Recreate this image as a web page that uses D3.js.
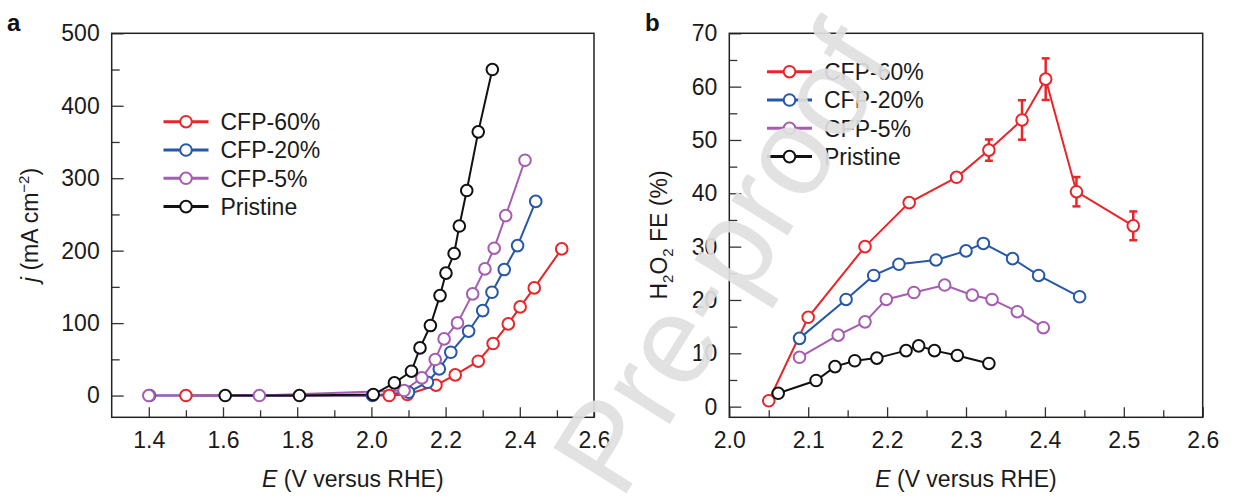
<!DOCTYPE html>
<html>
<head>
<meta charset="utf-8">
<script src="https://cdn.jsdelivr.net/npm/d3@7"></script>
<style>
    body { margin: 0; background: #fff; }
    svg { display: block; font-family: "Liberation Sans", Arial, Helvetica, sans-serif; }
</style>
</head>
<body>
<svg id="fig" width="1233" height="497"></svg>
<script>
'use strict';

/* ---- series names & colours ---- */
const SERIES_NAMES = ['CFP-60%', 'CFP-20%', 'CFP-5%', 'Pristine'];
const SERIES_COLORS = ['#e8262a', '#2757a7', '#a65cb2', '#111111'];

/* ---- panel a: j (mA cm-2) vs E ---- */
const A_E_CFP60 = [1.5, 2.048, 2.097, 2.174, 2.226, 2.288, 2.328, 2.369, 2.401, 2.439, 2.513];
const A_J_CFP60 = [0, 0, 1.4, 14.3, 28.5, 47.4, 71.8, 98.9, 122.4, 148.6, 202.4];
const A_E_CFP20 = [1.402, 2.003, 2.1, 2.151, 2.183, 2.214, 2.262, 2.3, 2.325, 2.358, 2.394, 2.443];
const A_J_CFP20 = [0, 0, 4.6, 18.4, 36.8, 59.8, 88.8, 117.3, 142.6, 173.9, 207, 268];
const A_E_CFP5 = [1.4, 1.698, 2.088, 2.136, 2.172, 2.196, 2.232, 2.273, 2.306, 2.331, 2.362, 2.414];
const A_J_CFP5 = [0, 0, 6.9, 24.4, 49.7, 78.2, 100.3, 140.3, 174.8, 203.4, 248.4, 324.8];
const A_E_PRIS = [1.606, 1.806, 2.005, 2.062, 2.108, 2.131, 2.159, 2.185, 2.201, 2.223, 2.237, 2.257, 2.288, 2.326];
const A_J_PRIS = [0, 0, 1.4, 17.5, 33.6, 65.8, 96.6, 138, 169, 196, 234, 283, 364, 450];

/* ---- panel b: H2O2 FE (%) vs E ---- */
const B_E_CFP60 = [2.05, 2.10, 2.172, 2.228, 2.288, 2.329, 2.371, 2.401, 2.44, 2.512];
const B_FE_CFP60 = [1.1, 16.75, 30, 38.25, 43, 48.1, 53.75, 61.4, 40.3, 33.9];
const B_ERR_CFP60 = [0, 0, 0, 0, 0, 2.0, 3.7, 3.9, 2.75, 2.7];
const B_E_CFP20 = [2.089, 2.148, 2.183, 2.215, 2.262, 2.3, 2.322, 2.359, 2.392, 2.444];
const B_FE_CFP20 = [12.8, 20.1, 24.6, 26.7, 27.5, 29.2, 30.6, 27.75, 24.6, 20.6];
const B_E_CFP5 = [2.089, 2.138, 2.172, 2.199, 2.234, 2.273, 2.308, 2.333, 2.365, 2.398];
const B_FE_CFP5 = [9.25, 13.4, 15.9, 20.1, 21.4, 22.8, 20.9, 20.1, 17.8, 14.8];
const B_E_PRIS = [2.062, 2.11, 2.134, 2.159, 2.187, 2.224, 2.24, 2.26, 2.289, 2.329];
const B_FE_PRIS = [2.5, 4.9, 7.5, 8.6, 9.1, 10.5, 11.4, 10.5, 9.6, 8.1];

/* ---- tick values ---- */
const A_X_LABELS = [1.4, 1.6, 1.8, 2.0, 2.2, 2.4, 2.6];
const A_X_MINOR = [1.5, 1.7, 1.9, 2.1, 2.3, 2.5];
const A_Y_LABELS = [0, 100, 200, 300, 400, 500];
const A_Y_MINOR = [50, 150, 250, 350, 450];
const B_X_LABELS = [2.0, 2.1, 2.2, 2.3, 2.4, 2.5, 2.6];
const B_X_MINOR = [2.05, 2.15, 2.25, 2.35, 2.45, 2.55];
const B_Y_LABELS = [0, 10, 20, 30, 40, 50, 60, 70];
const B_Y_MINOR = [5, 15, 25, 35, 45, 55, 65];

const FONT = 23;
const svg = d3.select('#fig');

function zip(xs, ys, es) {
    return xs.map((x, i) => ({ x: x, y: ys[i], e: es ? es[i] : 0 }));
}

/**
 * Draw one framed panel with inward ticks, series, and legend.
 */
function drawPanel(p) {
    const x = d3.scaleLinear().domain(p.xDomain).range([p.left, p.right]);
    const y = d3.scaleLinear().domain(p.yDomain).range([p.bottom, p.top]);
    const g = svg.append('g');

    /* axes: major with labels, minor without */
    const fmtX = d3.format('.1f');
    const ax = g.append('g').attr('transform', `translate(0,${p.bottom})`)
        .call(d3.axisBottom(x).tickValues(p.xLabels).tickSize(-10).tickPadding(14).tickFormat(fmtX));
    const axm = g.append('g').attr('transform', `translate(0,${p.bottom})`)
        .call(d3.axisBottom(x).tickValues(p.xMinor).tickSize(-7).tickFormat(''));
    const ay = g.append('g').attr('transform', `translate(${p.left},0)`)
        .call(d3.axisLeft(y).tickValues(p.yLabels).tickSize(-12).tickPadding(12));
    const aym = g.append('g').attr('transform', `translate(${p.left},0)`)
        .call(d3.axisLeft(y).tickValues(p.yMinor).tickSize(-8).tickFormat(''));
    [ax, axm, ay, aym].forEach(a => {
        a.select('.domain').remove();
        a.selectAll('line').attr('stroke', '#333').attr('stroke-width', 1.3);
        a.selectAll('text').attr('font-size', FONT).attr('fill', '#1a1a1a')
            .attr('font-family', '"Liberation Sans", Arial, sans-serif');
    });

    g.append('rect')
        .attr('x', p.left).attr('y', p.top)
        .attr('width', p.right - p.left).attr('height', p.bottom - p.top)
        .attr('fill', 'none').attr('stroke', '#222').attr('stroke-width', 1.5);

    const line = d3.line().x(d => x(d.x)).y(d => y(d.y));

    /* lines first, then error bars, then markers */
    p.series.forEach((s, i) => {
        g.append('path').datum(s).attr('d', line)
            .attr('fill', 'none').attr('stroke', SERIES_COLORS[i]).attr('stroke-width', 2);
    });
    p.series.forEach((s, i) => {
        const eb = s.filter(d => d.e > 0);
        const grp = g.append('g').attr('stroke', SERIES_COLORS[i]).attr('stroke-width', 2.5);
        grp.selectAll('line.v').data(eb).join('line')
            .attr('x1', d => x(d.x)).attr('x2', d => x(d.x))
            .attr('y1', d => y(d.y - d.e)).attr('y2', d => y(d.y + d.e));
        grp.selectAll('line.t').data(eb).join('line')
            .attr('x1', d => x(d.x) - 4).attr('x2', d => x(d.x) + 4)
            .attr('y1', d => y(d.y + d.e)).attr('y2', d => y(d.y + d.e));
        grp.selectAll('line.b').data(eb).join('line')
            .attr('x1', d => x(d.x) - 4).attr('x2', d => x(d.x) + 4)
            .attr('y1', d => y(d.y - d.e)).attr('y2', d => y(d.y - d.e));
    });
    p.series.forEach((s, i) => {
        g.append('g').selectAll('circle').data(s).join('circle')
            .attr('cx', d => x(d.x)).attr('cy', d => y(d.y)).attr('r', 5.8)
            .attr('fill', '#fff').attr('stroke', SERIES_COLORS[i]).attr('stroke-width', 2);
    });

    /* legend */
    const lg = g.append('g').attr('transform', `translate(${p.legend[0]},${p.legend[1]})`);
    SERIES_NAMES.forEach((name, i) => {
        const row = lg.append('g').attr('transform', `translate(0,${i * 28.3})`);
        row.append('line').attr('x1', 0).attr('x2', 45).attr('y1', 0).attr('y2', 0)
            .attr('stroke', SERIES_COLORS[i]).attr('stroke-width', 3);
        row.append('circle').attr('cx', 22.5).attr('cy', 0).attr('r', 5.8)
            .attr('fill', '#fff').attr('stroke', SERIES_COLORS[i]).attr('stroke-width', 2);
        row.append('text').attr('x', 57).attr('y', 0).attr('dy', '0.36em')
            .attr('font-size', 23).attr('fill', '#1a1a1a').text(name);
    });

    /* x title */
    const xt = g.append('text').attr('x', (p.left + p.right) / 2).attr('y', 487)
        .attr('text-anchor', 'middle').attr('font-size', FONT).attr('fill', '#1a1a1a');
    xt.append('tspan').attr('font-style', 'italic').text('E');
    xt.append('tspan').text(' (V versus RHE)');

    /* panel letter */
    g.append('text').attr('x', p.letter[0]).attr('y', p.letter[1])
        .attr('font-size', 24).attr('font-weight', 'bold').attr('fill', '#111').text(p.letterText);

    return g;
}

const gA = drawPanel({
    left: 111.7, right: 594, top: 33.3, bottom: 417.3,
    xDomain: [1.3, 2.6], yDomain: [-30, 500],
    xLabels: A_X_LABELS, xMinor: A_X_MINOR, yLabels: A_Y_LABELS, yMinor: A_Y_MINOR,
    series: [zip(A_E_CFP60, A_J_CFP60), zip(A_E_CFP20, A_J_CFP20), zip(A_E_CFP5, A_J_CFP5), zip(A_E_PRIS, A_J_PRIS)],
    legend: [163.5, 121.7], letter: [7, 31], letterText: 'a'
});

const yTitleA = gA.append('text').attr('transform', 'translate(38,225) rotate(-90)')
    .attr('text-anchor', 'middle').attr('font-size', FONT).attr('fill', '#1a1a1a');
yTitleA.append('tspan').attr('font-style', 'italic').text('j');
yTitleA.append('tspan').text(' (mA cm');
yTitleA.append('tspan').attr('font-size', 15).attr('dy', -9).text('\u22122');
yTitleA.append('tspan').attr('dy', 9).text(')');

const gB = drawPanel({
    left: 729.3, right: 1202.7, top: 33.3, bottom: 417.3,
    xDomain: [2.0, 2.6], yDomain: [-2, 70],
    xLabels: B_X_LABELS, xMinor: B_X_MINOR, yLabels: B_Y_LABELS, yMinor: B_Y_MINOR,
    series: [zip(B_E_CFP60, B_FE_CFP60, B_ERR_CFP60), zip(B_E_CFP20, B_FE_CFP20), zip(B_E_CFP5, B_FE_CFP5), zip(B_E_PRIS, B_FE_PRIS)],
    legend: [767, 71.7], letter: [645, 31], letterText: 'b'
});

const yTitleB = gB.append('text').attr('transform', 'translate(667,235) rotate(-90)')
    .attr('text-anchor', 'middle').attr('font-size', FONT).attr('fill', '#1a1a1a');
yTitleB.append('tspan').text('H');
yTitleB.append('tspan').attr('font-size', 15).attr('dy', 6).text('2');
yTitleB.append('tspan').attr('dy', -6).text('O');
yTitleB.append('tspan').attr('font-size', 15).attr('dy', 6).text('2');
yTitleB.append('tspan').attr('dy', -6).text(' FE (%)');

/* "Pre-proof" watermark on top */
svg.append('text')
    .attr('transform', 'translate(621,502) rotate(-58)')
    .attr('font-size', 125).attr('fill', '#e0e0e0').attr('opacity', 0.92)
    .text('Pre-proof');
</script>
</body>
</html>
